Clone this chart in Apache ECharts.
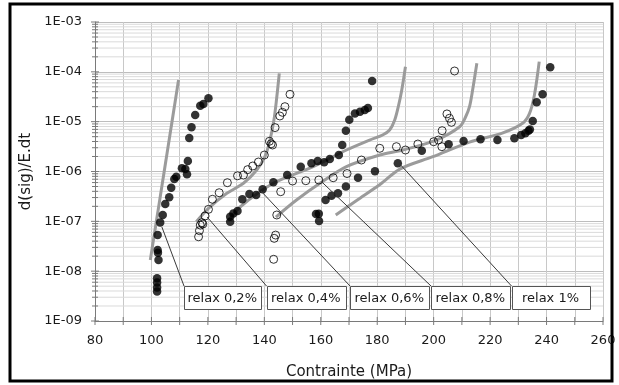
<!DOCTYPE html>
<html>
<head>
<meta charset="utf-8">
<script src="https://cdn.jsdelivr.net/npm/echarts@6/dist/echarts.min.js"></script>
<style>
html,body{margin:0;padding:0;background:#fff;}
#c{width:619px;height:385px;}
</style>
</head>
<body>
<div id="c"></div>
<script>
// ---------- data ----------
const xLabelsStep = 20;
const xMin = 80, xMax = 260, xStep = 10;
const yMin = 1e-9, yMax = 1e-3;
const yTickExponents = [-9, -8, -7, -6, -5, -4, -3];

// filled circles, first test
const filled1 = [[102.0,7.2e-9],[102.0,5.9e-9],[102.0,4.7e-9],[102.0,3.9e-9],[102.3,2.34e-8],[102.2,2.65e-8],[102.5,1.67e-8],[102.2,5.3e-8],[103.1,9.5e-8],[104.0,1.34e-7],[104.9,2.23e-7],[106.3,3.03e-7],[107.0,4.73e-7],[108.1,7.07e-7],[108.8,7.85e-7],[110.8,1.16e-6],[112.0,1.12e-6],[112.6,8.8e-7],[112.9,1.63e-6],[113.4,4.7e-6],[114.2,7.7e-6],[115.5,1.36e-5],[117.3,2.09e-5],[118.4,2.26e-5],[120.2,2.94e-5]];
// open circles, second test
const openA = [[116.7,4.9e-8],[117.0,6.5e-8],[117.3,8.4e-8],[117.9,9.4e-8],[118.2,8.8e-8],[119.0,1.28e-7],[120.2,1.74e-7],[121.6,2.77e-7],[124.0,3.75e-7],[126.9,5.96e-7],[130.5,8.2e-7],[132.6,8.5e-7],[134.1,1.09e-6],[135.9,1.29e-6],[137.9,1.55e-6],[140.0,2.14e-6],[141.8,4.04e-6],[142.4,3.6e-6],[142.9,3.4e-6],[143.8,7.6e-6],[145.5,1.3e-5],[146.4,1.54e-5],[147.3,2.0e-5],[149.1,3.54e-5]];
// filled circles, third test
const filled2 = [[127.9,9.8e-8],[127.9,1.24e-7],[129.0,1.44e-7],[130.5,1.61e-7],[132.2,2.78e-7],[134.7,3.53e-7],[137.1,3.37e-7],[139.4,4.41e-7],[143.2,6.07e-7],[148.1,8.5e-7],[152.9,1.25e-6],[156.7,1.47e-6],[158.9,1.62e-6],[161.2,1.53e-6],[163.2,1.78e-6],[166.4,2.14e-6],[167.6,3.4e-6],[168.9,6.56e-6],[170.1,1.09e-5],[172.1,1.46e-5],[173.9,1.58e-5],[175.6,1.71e-5],[176.7,1.88e-5],[178.2,6.55e-5]];
// open circles, fourth test
const openB = [[143.3,1.73e-8],[143.5,4.56e-8],[144.0,5.3e-8],[144.4,1.34e-7],[145.8,3.93e-7],[150.0,6.44e-7],[154.7,6.53e-7],[159.3,6.75e-7],[164.4,7.5e-7],[169.3,9.1e-7],[174.4,1.7e-6],[180.9,2.92e-6],[186.8,3.15e-6],[190.0,2.7e-6],[194.4,3.56e-6],[200.0,3.96e-6],[201.7,4.28e-6],[202.9,3.15e-6],[203.0,6.59e-6],[204.7,1.43e-5],[205.6,1.17e-5],[206.3,9.7e-6],[207.4,1.04e-4]];
// filled circles, fifth test
const filled3 = [[159.4,1.01e-7],[158.3,1.4e-7],[159.3,1.42e-7],[161.7,2.68e-7],[163.8,3.27e-7],[166.1,3.65e-7],[168.9,5.0e-7],[173.2,7.5e-7],[179.2,1.01e-6],[187.3,1.46e-6],[195.8,2.61e-6],[205.3,3.51e-6],[210.6,4.09e-6],[216.6,4.43e-6],[222.6,4.28e-6],[228.6,4.64e-6],[231.0,5.4e-6],[232.5,5.84e-6],[233.6,6.59e-6],[234.1,7.0e-6],[235.1,1.03e-5],[236.5,2.45e-5],[238.6,3.54e-5],[241.3,1.23e-4]];

// grey model curves
const relax02 = [[99.6,1.67e-8],[109.6,6.85e-5]];
const relax04 = [[115.9,9.8e-8],[120.2,1.82e-7],[126.7,3.65e-7],[132.6,5.8e-7],[137.3,1.07e-6],[140.2,1.98e-6],[142.0,4.28e-6],[143.4,1.08e-5],[144.3,2.72e-5],[145.3,9.3e-5]];
const relax06 = [[127.2,1.01e-7],[131.4,1.94e-7],[143.2,5.8e-7],[157.3,1.25e-6],[169.1,2.7e-6],[177.3,4.28e-6],[181.9,5.4e-6],[184.4,6.8e-6],[186.2,1.08e-5],[187.6,2.16e-5],[188.7,4.32e-5],[190.0,1.27e-4]];
const relax08 = [[144.1,1.22e-7],[151.4,2.68e-7],[159.7,5.8e-7],[169.1,1.25e-6],[180.9,2.14e-6],[189.1,2.7e-6],[200.9,4.28e-6],[209.2,7.9e-6],[211.3,1.24e-5],[212.7,2.0e-5],[213.8,4.3e-5],[215.3,1.48e-4]];
const relax1 = [[165.3,1.34e-7],[172.7,2.62e-7],[181.2,5.6e-7],[188.0,1.12e-6],[199.7,1.98e-6],[212.7,3.9e-6],[224.3,5.9e-6],[231.5,9.3e-6],[233.9,1.43e-5],[235.7,3.43e-5],[237.4,1.6e-4]];

// callout labels and the data point each one points at
const calloutTexts = ['relax 0,2%', 'relax 0,4%', 'relax 0,6%', 'relax 0,8%', 'relax 1%'];
const calloutAnchors = [[103.7,7.7e-8],[119.75,1.22e-7],[138.8,4.06e-7],[160.2,6.3e-7],[188.3,1.35e-6]];

// ---------- chart ----------
const FONT = 'DejaVu Sans';
const chart = echarts.init(document.getElementById('c'), null, {renderer: 'canvas'});

function curve(data) {
  return {type: 'line', data: data, showSymbol: false, smooth: 0.3, silent: true, z: 2,
          lineStyle: {color: '#9b9b9b', width: 3}};
}
function dots(data, open) {
  return {type: 'scatter', data: data, symbol: 'circle', symbolSize: open ? 8 : 8.5, silent: true, z: 3,
          itemStyle: open ? {color: 'rgba(255,255,255,0)', borderColor: '#000', borderWidth: 1}
                          : {color: '#000'}};
}

chart.setOption({
  animation: false,
  backgroundColor: '#fff',
  grid: {left: 95, right: 16, top: 22, bottom: 64, show: false},
  xAxis: {
    type: 'value', min: xMin, max: xMax, interval: xStep,
    name: 'Contrainte (MPa)', nameLocation: 'middle', nameGap: 44,
    nameTextStyle: {fontFamily: FONT, fontSize: 15, color: '#1a1a1a'},
    axisLine: {lineStyle: {color: '#7a7a7a', width: 1}},
    axisTick: {show: false},
    axisLabel: {fontFamily: FONT, fontSize: 13, color: '#1a1a1a', margin: 13,
      formatter: v => (v % xLabelsStep === 0 ? String(v) : '')},
    splitLine: {show: true, lineStyle: {color: '#c8c8c8', width: 1}}
  },
  yAxis: {
    type: 'log', logBase: 10, min: yMin, max: yMax, splitNumber: 6,
    name: 'd(sig)/E.dt', nameLocation: 'middle', nameGap: 51,
    nameTextStyle: {fontFamily: FONT, fontSize: 15, color: '#1a1a1a'},
    axisLine: {show: true, lineStyle: {color: '#7a7a7a', width: 1}},
    axisTick: {show: false},
    axisLabel: {fontFamily: FONT, fontSize: 13, color: '#1a1a1a', margin: 13,
      formatter: v => { const e = Math.round(Math.log10(v)); return '1E-' + String(-e).padStart(2, '0'); }},
    splitLine: {show: true, lineStyle: {color: '#bdbdbd', width: 1}}
  },
  series: [
    curve(relax02), curve(relax04), curve(relax06), curve(relax08), curve(relax1),
    dots(filled1, false), dots(openA, true), dots(filled2, false), dots(openB, true), dots(filled3, false)
  ]
});

// ---------- decorations: minor grid, ticks, callouts, frame ----------
const g = [];
const toPx = p => chart.convertToPixel({gridIndex: 0}, p);
const x0 = toPx([xMin, yMin])[0], x1 = toPx([xMax, yMin])[0];
const yBot = toPx([xMin, yMin])[1];

// minor horizontal grid lines and y ticks
for (let i = 0; i < yTickExponents.length; i++) {
  const e = yTickExponents[i];
  const yMaj = toPx([xMin, Math.pow(10, e)])[1];
  g.push({type: 'line', z: 1, silent: true, shape: {x1: x0 - 4, y1: yMaj, x2: x0 + 4, y2: yMaj},
          style: {stroke: '#7a7a7a', lineWidth: 1}});
  if (i === yTickExponents.length - 1) break;
  for (let k = 2; k <= 9; k++) {
    const y = toPx([xMin, k * Math.pow(10, e)])[1];
    g.push({type: 'line', z: 0, silent: true, shape: {x1: x0, y1: y, x2: x1, y2: y},
            style: {stroke: '#dadada', lineWidth: 1}});
    g.push({type: 'line', z: 1, silent: true, shape: {x1: x0 - 3, y1: y, x2: x0 + 3, y2: y},
            style: {stroke: '#7a7a7a', lineWidth: 1}});
  }
}
// x ticks (crossing the axis)
for (let v = xMin; v <= xMax; v += xStep) {
  const x = toPx([v, yMin])[0];
  g.push({type: 'line', z: 1, silent: true, shape: {x1: x, y1: yBot - 4, x2: x, y2: yBot + 4},
          style: {stroke: '#7a7a7a', lineWidth: 1}});
}

// callout boxes
const boxLeft = [184, 266.5, 350, 431, 511.5];
const boxW = [76.5, 78.5, 78.5, 78.5, 78];
const boxTop = 286, boxH = 23;
for (let i = 0; i < calloutTexts.length; i++) {
  const a = toPx(calloutAnchors[i]);
  g.push({type: 'line', z: 50, silent: true, shape: {x1: a[0], y1: a[1], x2: boxLeft[i], y2: boxTop},
          style: {stroke: '#3a3a3a', lineWidth: 1}});
  g.push({type: 'rect', z: 51, silent: true,
          shape: {x: Math.round(boxLeft[i]) + 0.5, y: boxTop + 0.5, width: Math.round(boxW[i]), height: boxH},
          style: {fill: '#fff', stroke: '#555', lineWidth: 1}});
  g.push({type: 'text', z: 52, silent: true,
          style: {x: boxLeft[i] + boxW[i] / 2, y: boxTop + boxH / 2 + 1, text: calloutTexts[i],
                  font: '13px "' + FONT + '"', fill: '#1a1a1a', align: 'center', verticalAlign: 'middle'}});
}

// outer frame
g.push({type: 'rect', z: 60, silent: true, shape: {x: 10, y: 4, width: 602, height: 377},
        style: {fill: 'none', stroke: '#000', lineWidth: 3}});

chart.setOption({graphic: {elements: g}});
</script>
</body>
</html>
